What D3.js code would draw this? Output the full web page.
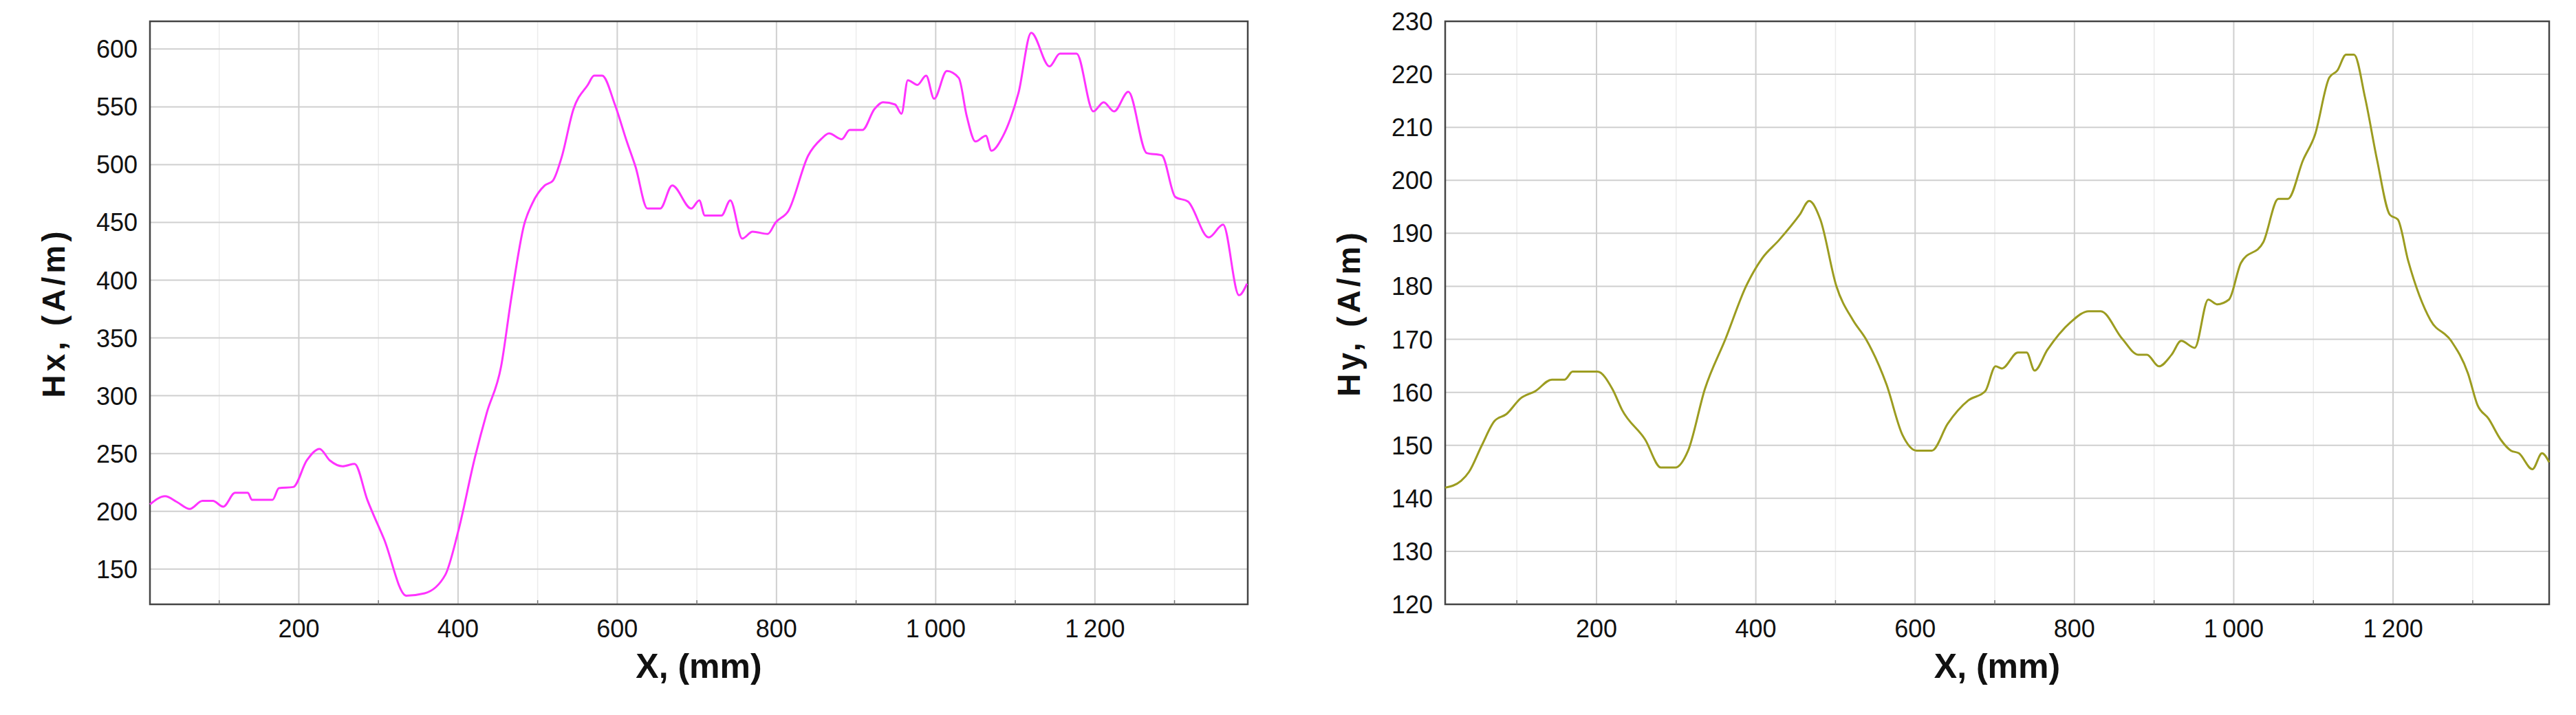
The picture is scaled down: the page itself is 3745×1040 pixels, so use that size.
<!DOCTYPE html>
<html lang="en">
<head>
<meta charset="UTF-8" />
<script src="https://d3js.org/d3.v7.min.js"></script>
<style>
  body { margin: 0; background: #fff; }
  svg text { font-family: "Liberation Sans", Arial, sans-serif; fill: #111; }
</style>
</head>
<body>
<svg id="chart" width="3745" height="1040"></svg>
<script>
// Hx profile (left chart)
const hxX = [13,32,47,63,79,92,105,120,136,141,167,175,193,210,226,239,255,270,286,307,335,358,384,400,421,436,454,467,483,493,509,519,530,545,563,571,581,597,612,623,638,654,669,693,703,710,731,742,757,770,789,799,815,840,856,866,882,892,908,923,934,949,957,965,977,988,998,1014,1029,1039,1050,1063,1070,1084,1094,1104,1120,1143,1156,1177,1198,1211,1224,1242,1265,1284,1301,1317,1343,1361,1381,1391];
const hxY = [206,213,208,202,209,209,204,216,216,210,210,220,221,244,254,244,239,241,210,176,127,129,145,182,246,285,325,385,448,466,482,486,506,548,569,577,577,552,520,498,462,462,482,462,469,456,456,469,436,442,440,450,460,508,522,527,522,530,530,548,554,552,544,573,569,577,557,581,575,542,520,525,512,524,540,562,614,585,596,596,546,554,546,563,510,508,472,468,437,448,387,397];

// Hy profile (right chart)
const hyX = [10,30,40,56,72,87,105,123,144,160,170,201,220,232,261,281,299,315,336,362,388,408,429,455,467,481,501,522,538,564,584,602,621,641,667,688,701,709,729,740,750,766,795,818,833,860,880,891,906,922,934,951,968,979,994,1009,1037,1056,1068,1087,1102,1120,1130,1141,1151,1165,1180,1196,1206,1219,1247,1273,1294,1306,1320,1335,1348,1358,1375,1387,1396];
const hyY = [142,143.3,145,150,154.6,155.9,158.9,160.2,162.4,162.4,163.9,163.9,160.6,156.7,151.1,145.8,145.8,149,160.6,170.1,180.1,185.3,188.7,193.5,196.1,192.6,180.1,173.6,170.1,161.5,152,149,149,154.1,158.5,160.2,164.9,164.5,167.5,167.5,164.1,168,173.2,175.3,175.3,170.1,167.1,167.1,164.9,167.1,169.7,168.4,177.5,176.6,177.5,184.4,188.3,196.5,196.5,203.8,208.6,219.4,220.7,223.7,223.7,215.5,203.8,193.5,192.6,184.8,173.6,169.7,163.6,157.6,155,151.1,149,148.5,145.5,148.5,146.8];

const xTicks = [200,400,600,800,1000,1200];
const hxTicks = [150,200,250,300,350,400,450,500,550,600];
const hyTicks = [120,130,140,150,160,170,180,190,200,210,220,230];

const svg = d3.select("#chart");
const fmt = d => d3.format(",")(d).replace(",", "\u2009");

function drawPanel(opt) {
  const x = d3.scaleLinear().domain(opt.xDomain).range([opt.left, opt.right]);
  const y = d3.scaleLinear().domain(opt.yDomain).range([opt.bottom, opt.top]);
  const g = svg.append("g");

  // minor vertical grid at odd hundreds
  g.selectAll(".minor").data(d3.range(100, 1400, 200)).join("line")
    .attr("x1", d => x(d)).attr("x2", d => x(d))
    .attr("y1", opt.top).attr("y2", opt.bottom)
    .attr("stroke", "#ececec").attr("stroke-width", 1.5);

  // major grid
  g.selectAll(".vg").data(opt.xTicks).join("line")
    .attr("x1", d => x(d)).attr("x2", d => x(d))
    .attr("y1", opt.top).attr("y2", opt.bottom)
    .attr("stroke", "#cfcfcf").attr("stroke-width", 2);
  g.selectAll(".hg").data(opt.yTicks).join("line")
    .attr("x1", opt.left).attr("x2", opt.right)
    .attr("y1", d => y(d)).attr("y2", d => y(d))
    .attr("stroke", "#cfcfcf").attr("stroke-width", 2);

  // frame
  g.append("rect")
    .attr("x", opt.left).attr("y", opt.top)
    .attr("width", opt.right - opt.left).attr("height", opt.bottom - opt.top)
    .attr("fill", "none").attr("stroke", "#444").attr("stroke-width", 2.5);

  // minor x ticks
  g.selectAll(".mt").data(d3.range(100, 1400, 200)).join("line")
    .attr("x1", d => x(d)).attr("x2", d => x(d))
    .attr("y1", opt.bottom).attr("y2", opt.bottom - 6)
    .attr("stroke", "#777").attr("stroke-width", 1.5);

  // data line
  const pts = opt.xs.map((v, i) => [v, opt.ys[i]]);
  g.append("path").datum(pts)
    .attr("fill", "none").attr("stroke", opt.color).attr("stroke-width", 3)
    .attr("stroke-linejoin", "round")
    .attr("d", d3.line().x(d => x(d[0])).y(d => y(d[1])).curve(d3.curveMonotoneX));

  // tick labels
  g.selectAll(".xl").data(opt.xTicks).join("text")
    .attr("x", d => x(d)).attr("y", opt.bottom + 48)
    .attr("text-anchor", "middle").attr("font-size", 36)
    .text(fmt);
  g.selectAll(".yl").data(opt.yTicks).join("text")
    .attr("x", opt.left - 18).attr("y", d => y(d) + 13)
    .attr("text-anchor", "end").attr("font-size", 36)
    .text(d => d);

  // titles
  g.append("text")
    .attr("x", (opt.left + opt.right) / 2).attr("y", 986)
    .attr("text-anchor", "middle").attr("font-size", 50).attr("font-weight", "bold")
    .text("X, (mm)");
  g.append("text")
    .attr("transform", `translate(${opt.left - 124},${(opt.top + opt.bottom) / 2}) rotate(-90)`)
    .attr("text-anchor", "middle").attr("font-size", 46).attr("font-weight", "bold")
    .attr("letter-spacing", 5)
    .text(opt.yTitle);
}

drawPanel({
  left: 218, right: 1814, top: 31, bottom: 879,
  xDomain: [13, 1392], yDomain: [119.5, 624],
  xTicks: xTicks, yTicks: hxTicks,
  xs: hxX, ys: hxY, color: "#ff33ff", yTitle: "Hx, (A/m)"
});
drawPanel({
  left: 2101, right: 3706, top: 31, bottom: 879,
  xDomain: [10, 1396], yDomain: [120, 230],
  xTicks: xTicks, yTicks: hyTicks,
  xs: hyX, ys: hyY, color: "#9c9c20", yTitle: "Hy, (A/m)"
});
</script>
</body>
</html>
